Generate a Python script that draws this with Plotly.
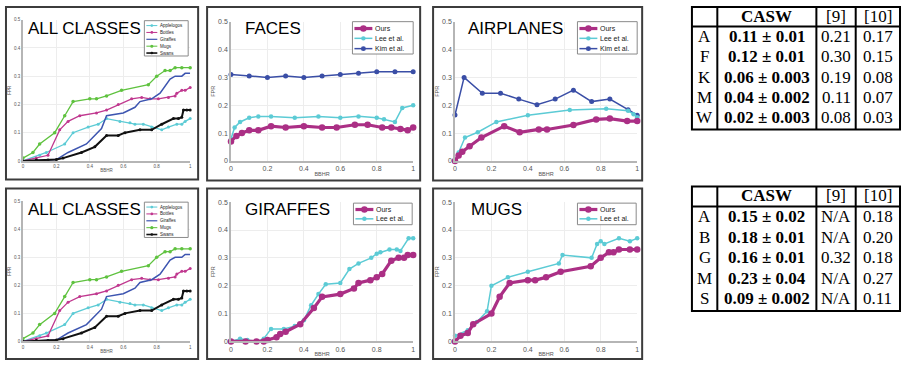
import plotly.graph_objects as go

W, H = 904, 367

# ---------------- data ----------------
ALL_NAMES = ["Applelogos", "Bottles", "Giraffes", "Mugs", "Swans"]

all_apple_x = [0, 0.10, 0.14, 0.25, 0.30, 0.39, 0.45, 0.50, 0.58, 0.64, 0.67, 0.72, 0.77, 0.83, 0.87, 0.92, 0.95, 0.97, 1.0]
all_apple_y = [0, 0.02, 0.03, 0.06, 0.10, 0.12, 0.13, 0.15, 0.14, 0.135, 0.13, 0.13, 0.12, 0.11, 0.12, 0.13, 0.13, 0.14, 0.15]
all_bottle_x = [0, 0.08, 0.15, 0.22, 0.27, 0.34, 0.44, 0.50, 0.57, 0.65, 0.71, 0.76, 0.81, 0.87, 0.91, 0.92, 0.95, 0.97, 1.0]
all_bottle_y = [0, 0.01, 0.02, 0.11, 0.14, 0.16, 0.17, 0.18, 0.20, 0.22, 0.225, 0.22, 0.22, 0.225, 0.23, 0.24, 0.25, 0.25, 0.26]
all_giraffe_x = [0, 0.20, 0.27, 0.38, 0.47, 0.50, 0.60, 0.67, 0.70, 0.77, 0.82, 0.88, 0.91, 0.95, 0.97, 1.0]
all_giraffe_y = [0, 0.005, 0.03, 0.06, 0.115, 0.16, 0.17, 0.19, 0.21, 0.22, 0.24, 0.29, 0.30, 0.30, 0.31, 0.31]
all_mug_x = [0, 0.06, 0.10, 0.19, 0.25, 0.30, 0.40, 0.44, 0.50, 0.59, 0.75, 0.80, 0.85, 0.88, 0.91, 0.95, 1.0]
all_mug_y = [0.01, 0.03, 0.06, 0.10, 0.16, 0.21, 0.22, 0.22, 0.23, 0.25, 0.27, 0.30, 0.32, 0.32, 0.33, 0.33, 0.33]
all_swan_x = [0, 0.08, 0.15, 0.20, 0.24, 0.35, 0.43, 0.50, 0.57, 0.61, 0.70, 0.77, 0.83, 0.90, 0.93, 0.95, 0.96, 0.98, 1.0]
all_swan_y = [0, 0.003, 0.003, 0.005, 0.01, 0.03, 0.05, 0.09, 0.09, 0.10, 0.11, 0.11, 0.13, 0.15, 0.15, 0.155, 0.18, 0.18, 0.18]

faces_ours_x = [0, 0.03, 0.06, 0.10, 0.15, 0.22, 0.30, 0.40, 0.50, 0.58, 0.68, 0.75, 0.83, 0.88, 0.93, 0.97, 1.0]
faces_ours_y = [0.07, 0.09, 0.10, 0.11, 0.11, 0.125, 0.12, 0.125, 0.12, 0.12, 0.13, 0.13, 0.12, 0.12, 0.115, 0.11, 0.12]
faces_lee_x = [0, 0.02, 0.05, 0.10, 0.15, 0.22, 0.35, 0.48, 0.60, 0.70, 0.80, 0.84, 0.90, 0.94, 1.0]
faces_lee_y = [0.08, 0.12, 0.14, 0.155, 0.16, 0.16, 0.155, 0.16, 0.155, 0.16, 0.155, 0.15, 0.14, 0.19, 0.20]
faces_kim_x = [0, 0.1, 0.2, 0.3, 0.4, 0.5, 0.6, 0.7, 0.8, 0.9, 1.0]
faces_kim_y = [0.31, 0.305, 0.30, 0.305, 0.30, 0.305, 0.31, 0.315, 0.32, 0.32, 0.32]

air_ours_x = [0, 0.02, 0.04, 0.08, 0.145, 0.27, 0.355, 0.46, 0.505, 0.65, 0.775, 0.85, 0.945, 1.0]
air_ours_y = [0, 0.02, 0.033, 0.053, 0.084, 0.125, 0.103, 0.113, 0.113, 0.129, 0.149, 0.152, 0.143, 0.143]
air_lee_x = [0, 0.02, 0.055, 0.125, 0.227, 0.40, 0.63, 0.83, 0.95, 0.98, 1.0]
air_lee_y = [0, 0.03, 0.084, 0.103, 0.14, 0.164, 0.183, 0.187, 0.18, 0.168, 0.157]
air_kim_x = [0, 0.05, 0.15, 0.25, 0.35, 0.45, 0.55, 0.65, 0.75, 0.85, 0.95, 1.0]
air_kim_y = [0.165, 0.30, 0.243, 0.243, 0.222, 0.202, 0.222, 0.254, 0.213, 0.222, 0.184, 0.164]

gir_ours_x = [0, 0.08, 0.14, 0.18, 0.20, 0.25, 0.27, 0.30, 0.38, 0.455, 0.50, 0.60, 0.675, 0.70, 0.765, 0.80, 0.83, 0.88, 0.92, 0.95, 0.97, 1.0]
gir_ours_y = [0, 0, 0, 0, 0.005, 0.015, 0.027, 0.035, 0.062, 0.12, 0.16, 0.17, 0.19, 0.21, 0.22, 0.23, 0.242, 0.29, 0.30, 0.30, 0.31, 0.31]
gir_lee_x = [0, 0.05, 0.09, 0.14, 0.18, 0.22, 0.29, 0.35, 0.40, 0.44, 0.48, 0.52, 0.60, 0.65, 0.70, 0.77, 0.80, 0.82, 0.87, 0.91, 0.93, 0.975, 1.0]
gir_lee_y = [0, 0.01, 0.005, 0, 0.01, 0.045, 0.045, 0.055, 0.076, 0.13, 0.17, 0.205, 0.21, 0.26, 0.28, 0.30, 0.315, 0.32, 0.33, 0.33, 0.325, 0.37, 0.37]

mug_ours_x = [0, 0.03, 0.07, 0.10, 0.20, 0.245, 0.30, 0.40, 0.44, 0.50, 0.58, 0.745, 0.80, 0.845, 0.87, 0.90, 0.96, 1.0]
mug_ours_y = [0, 0.02, 0.03, 0.062, 0.10, 0.16, 0.21, 0.22, 0.22, 0.23, 0.25, 0.27, 0.30, 0.32, 0.32, 0.33, 0.33, 0.33]
mug_lee_x = [0, 0.07, 0.12, 0.176, 0.20, 0.29, 0.40, 0.57, 0.59, 0.75, 0.78, 0.80, 0.82, 0.90, 0.96, 1.0]
mug_lee_y = [0.02, 0.04, 0.07, 0.108, 0.20, 0.23, 0.25, 0.28, 0.31, 0.30, 0.35, 0.36, 0.35, 0.37, 0.36, 0.37]

PANEL_TITLES = ["ALL CLASSES", "FACES", "AIRPLANES", "ALL CLASSES", "GIRAFFES", "MUGS"]
X_TITLE = "BBHR"
Y_TITLE = "FPR"

T_HEADER = ["", "CASW", "[9]", "[10]"]
T1_rows = ["A", "F", "K", "M", "W"]
T1_casw = ["0.11 ± 0.01", "0.12 ± 0.01", "0.06 ± 0.003", "0.04 ± 0.002", "0.02 ± 0.003"]
T1_ref9 = ["0.21", "0.30", "0.19", "0.11", "0.08"]
T1_ref10 = ["0.17", "0.15", "0.08", "0.07", "0.03"]
T2_rows = ["A", "B", "G", "M", "S"]
T2_casw = ["0.15 ± 0.02", "0.18 ± 0.01", "0.16 ± 0.01", "0.23 ± 0.04", "0.09 ± 0.002"]
T2_ref9 = ["N/A", "N/A", "0.32", "N/A", "N/A"]
T2_ref10 = ["0.18", "0.20", "0.18", "0.27", "0.11"]

# ---------------- styles ----------------
STY = {
    "Ours": dict(color="#ab2f85", width=3.2, msize=6.5),
    "Lee et al.": dict(color="#5ccbd5", width=1.5, msize=4.5),
    "Kim et al.": dict(color="#3a4ea6", width=1.5, msize=5),
    "Applelogos": dict(color="#5ccbd5", width=1.3, msize=3),
    "Bottles": dict(color="#c0388f", width=1.3, msize=3),
    "Giraffes": dict(color="#3d55b0", width=1.5, msize=0),
    "Mugs": dict(color="#5fc23f", width=1.3, msize=3.5),
    "Swans": dict(color="#111111", width=2.0, msize=3),
}

all_series = [
    ("Applelogos", all_apple_x, all_apple_y),
    ("Bottles", all_bottle_x, all_bottle_y),
    ("Giraffes", all_giraffe_x, all_giraffe_y),
    ("Mugs", all_mug_x, all_mug_y),
    ("Swans", all_swan_x, all_swan_y),
]

panel_series = [
    all_series,
    [("Kim et al.", faces_kim_x, faces_kim_y), ("Lee et al.", faces_lee_x, faces_lee_y), ("Ours", faces_ours_x, faces_ours_y)],
    [("Kim et al.", air_kim_x, air_kim_y), ("Lee et al.", air_lee_x, air_lee_y), ("Ours", air_ours_x, air_ours_y)],
    all_series,
    [("Lee et al.", gir_lee_x, gir_lee_y), ("Ours", gir_ours_x, gir_ours_y)],
    [("Lee et al.", mug_lee_x, mug_lee_y), ("Ours", mug_ours_x, mug_ours_y)],
]
legend_order = [
    ALL_NAMES, ["Ours", "Lee et al.", "Kim et al."], ["Ours", "Lee et al.", "Kim et al."],
    ALL_NAMES, ["Ours", "Lee et al."], ["Ours", "Lee et al."],
]

# pixel layout: plot (x0, x1, ytop, ybottom), frame, title pos, legend box, legend rows
panels = [
    dict(plot=(21, 189, 16, 160), frame=(4, 3, 197, 179), title=(24, 25), tick=4.5, ttl=4.5,
         leg=(143, 17, 187, 53), rows=[22, 29, 36, 43, 50], lx=(145, 156), tx=158, lf=4.5),
    dict(plot=(230, 413, 18, 160), frame=(206, 3, 420, 180), title=(242, 25), tick=7, ttl=5.5,
         leg=(352, 18, 413, 51), rows=[25, 35, 45.5], lx=(354, 372), tx=374, lf=7),
    dict(plot=(455, 638, 18, 160), frame=(433, 3, 643, 180), title=(466, 25), tick=7, ttl=5.5,
         leg=(578, 18, 638, 51), rows=[25, 35, 45.5], lx=(580, 598), tx=600, lf=7),
    dict(plot=(21, 189, 201, 344), frame=(4, 188, 197, 362), title=(24, 209.5), tick=4.5, ttl=4.5,
         leg=(143, 202, 187, 238), rows=[207, 214, 221, 228, 235], lx=(145, 156), tx=158, lf=4.5),
    dict(plot=(230, 413, 202, 344), frame=(206, 188, 420, 362), title=(242, 209.5), tick=7, ttl=5.5,
         leg=(353, 203, 412, 225), rows=[209.5, 219], lx=(355, 373), tx=375, lf=7),
    dict(plot=(455, 638, 202, 344), frame=(433, 188, 643, 362), title=(469, 209.5), tick=7, ttl=5.5,
         leg=(578, 203, 637, 225), rows=[209.5, 219], lx=(580, 598), tx=600, lf=7),
]


def fx(x):
    return x / W


def fy(y):
    return 1 - y / H


fig = go.Figure()
shapes = []
annotations = []
layout_axes = {}

for i, (p, series) in enumerate(zip(panels, panel_series), start=1):
    xa = "x" if i == 1 else f"x{i}"
    ya = "y" if i == 1 else f"y{i}"
    x0, x1, yt, yb = p["plot"]
    common = dict(showgrid=True, gridcolor="#ededed", gridwidth=1, zeroline=False,
                  showline=True, linecolor="#b5b5b5", linewidth=1.5, ticks="",
                  tickfont=dict(family="Liberation Sans", size=p["tick"], color="#555"),
                  title_font=dict(family="Liberation Sans", size=p["ttl"], color="#555"))
    layout_axes["xaxis" if i == 1 else f"xaxis{i}"] = dict(
        common, domain=[fx(x0), fx(x1)], range=[0, 1], dtick=0.2, tick0=0,
        anchor=ya, title=dict(text=X_TITLE, standoff=1))
    layout_axes["yaxis" if i == 1 else f"yaxis{i}"] = dict(
        common, domain=[fy(yb), fy(yt)], range=[0, 0.5], dtick=0.1, tick0=0,
        anchor=xa, title=dict(text=Y_TITLE, standoff=2))
    for name, xs, ys in series:
        st = STY[name]
        fig.add_trace(go.Scatter(
            x=xs, y=ys, xaxis=xa, yaxis=ya, name=name, showlegend=False,
            mode="lines+markers" if st["msize"] else "lines",
            line=dict(color=st["color"], width=st["width"]),
            marker=dict(color=st["color"], size=st["msize"]),
            cliponaxis=False))
    # frame
    fx0, fy0, fx1, fy1 = p["frame"]
    shapes.append(dict(type="rect", xref="paper", yref="paper", x0=fx(fx0), x1=fx(fx1),
                       y0=fy(fy1), y1=fy(fy0), line=dict(color="#3c3c3c", width=2)))
    # title
    tx, ty = p["title"]
    annotations.append(dict(text=PANEL_TITLES[i - 1], xref="paper", yref="paper", x=fx(tx), y=fy(ty),
                            xanchor="left", yanchor="middle", showarrow=False,
                            font=dict(family="Liberation Sans", size=17, color="#000")))
    # legend box
    lx0, ly0, lx1, ly1 = p["leg"]
    shapes.append(dict(type="rect", xref="paper", yref="paper", x0=fx(lx0), x1=fx(lx1),
                       y0=fy(ly1), y1=fy(ly0), line=dict(color="#8a8a8a", width=1),
                       fillcolor="white", layer="above"))
    small = p["lf"] < 6
    for name, ry in zip(legend_order[i - 1], p["rows"]):
        st = STY[name]
        a, b = p["lx"]
        lw = st["width"] * (0.8 if small else 1)
        shapes.append(dict(type="line", xref="paper", yref="paper", x0=fx(a), x1=fx(b),
                           y0=fy(ry), y1=fy(ry), line=dict(color=st["color"], width=lw), layer="above"))
        if st["msize"]:
            r = st["msize"] / 2 * (0.9 if small else 1)
            cx = (a + b) / 2
            shapes.append(dict(type="circle", xref="paper", yref="paper", x0=fx(cx - r), x1=fx(cx + r),
                               y0=fy(ry + r), y1=fy(ry - r), line=dict(width=0),
                               fillcolor=st["color"], layer="above"))
        annotations.append(dict(text=name, xref="paper", yref="paper", x=fx(p["tx"]), y=fy(ry),
                                xanchor="left", yanchor="middle", showarrow=False, borderpad=0,
                                font=dict(family="Liberation Sans", size=p["lf"], color="#222")))


def add_table(top, hline, bottom, header_c, row_cs, rows, casw, r9, r10):
    cols = [693, 718.5, 818, 857.5, 902]
    shapes.append(dict(type="rect", xref="paper", yref="paper", x0=fx(cols[0]), x1=fx(cols[-1]),
                       y0=fy(bottom), y1=fy(top), line=dict(color="#000", width=2)))
    for c in cols[1:-1]:
        shapes.append(dict(type="line", xref="paper", yref="paper", x0=fx(c), x1=fx(c),
                           y0=fy(bottom), y1=fy(top), line=dict(color="#000", width=2)))
    shapes.append(dict(type="line", xref="paper", yref="paper", x0=fx(cols[0]), x1=fx(cols[-1]),
                       y0=fy(hline), y1=fy(hline), line=dict(color="#000", width=2)))
    centers = [(cols[k] + cols[k + 1]) / 2 for k in range(4)]
    for k, h in enumerate(T_HEADER):
        if h:
            annotations.append(dict(text=f"<b>{h}</b>" if h == "CASW" else h, xref="paper", yref="paper",
                                    x=fx(centers[k]), y=fy(header_c), xanchor="center", yanchor="middle",
                                    showarrow=False, font=dict(family="Liberation Serif", size=17, color="#000")))
    for j, rc in enumerate(row_cs):
        vals = [rows[j], f"<b>{casw[j]}</b>", r9[j], r10[j]]
        for k, v in enumerate(vals):
            annotations.append(dict(text=v, xref="paper", yref="paper", x=fx(centers[k]), y=fy(rc),
                                    xanchor="center", yanchor="middle", showarrow=False,
                                    font=dict(family="Liberation Serif", size=17, color="#000")))


add_table(3, 23, 128, 12.5, [33.5, 54, 74.5, 95, 115.5], T1_rows, T1_casw, T1_ref9, T1_ref10)
add_table(186, 206.5, 313, 195.5, [217, 238, 258.5, 279.5, 300.5], T2_rows, T2_casw, T2_ref9, T2_ref10)

fig.update_layout(
    width=W, height=H, margin=dict(l=0, r=0, t=0, b=0),
    paper_bgcolor="white", plot_bgcolor="white",
    showlegend=False, shapes=shapes, annotations=annotations, **layout_axes)

fig.write_html("out.html", config={"displayModeBar": False},
               post_script="document.body.style.margin='0';document.body.style.overflow='hidden';")
